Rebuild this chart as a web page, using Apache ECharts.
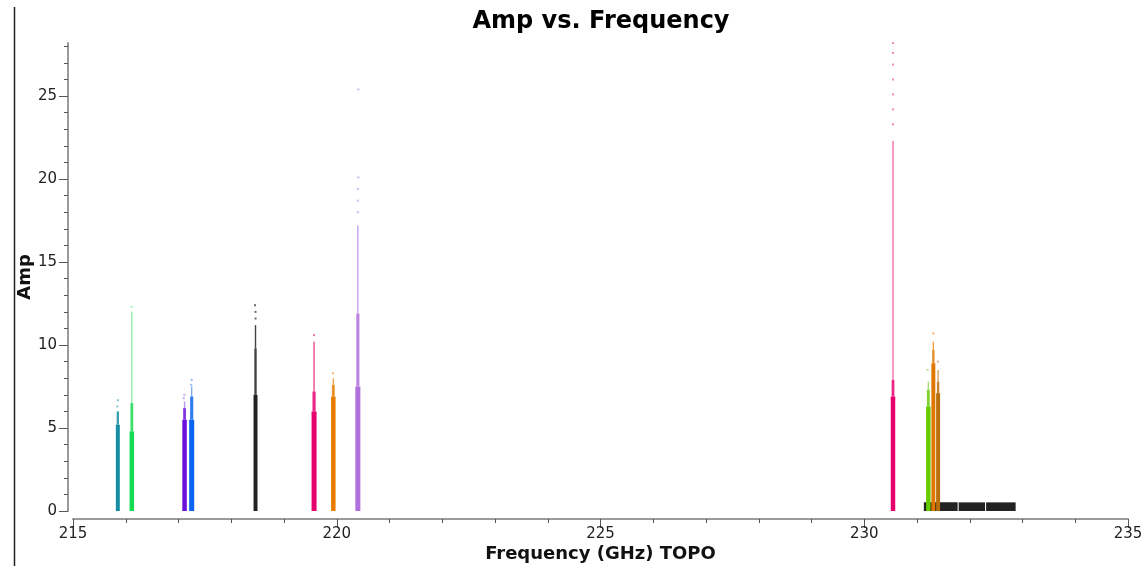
<!DOCTYPE html>
<html>
<head>
<meta charset="utf-8">
<script src="https://cdn.jsdelivr.net/npm/echarts@6/dist/echarts.min.js"></script>
<style>
html,body{margin:0;padding:0;background:#fff;}
#chart{width:1141px;height:566px;}
</style>
</head>
<body>
<div id="chart"></div>
<script>
// ---- data ----
const xTickLabels = [215, 220, 225, 230, 235];
const xMinorTicks = [215,216,217,218,219,220,221,222,223,224,225,226,227,228,229,230,231,232,233,234,235];
const yTickLabels = [0, 5, 10, 15, 20, 25];
const yMinorTicks = [0,1,2,3,4,5,6,7,8,9,10,11,12,13,14,15,16,17,18,19,20,21,22,23,24,25,26,27,28];

// spectral windows (frequency span in GHz, amplitude levels)
const spwFreqLo   = [215.82, 216.08, 217.08, 217.21, 218.43, 219.53, 219.90, 220.36, 230.51, 231.18, 231.28, 231.37];
const spwFreqHi   = [215.88, 216.15, 217.15, 217.29, 218.49, 219.61, 219.97, 220.44, 230.58, 231.25, 231.34, 231.43];
const spwDenseTop = [5.2, 4.8, 5.5, 5.5, 7.0, 6.0, 6.9, 7.5, 6.9, 6.3, 8.9, 7.1];
const spwSparseTop= [6.0, 6.5, 6.2, 6.9, 9.8, 7.2, 7.6, 11.9, 7.9, 7.3, 9.7, 7.8];
const spwTailTop  = [6.0, 12.0, 6.6, 7.5, 11.2, 10.2, 8.0, 17.2, 22.3, 7.8, 10.2, 8.5];

// isolated high points
const outlierSpw  = [0, 0, 1, 2, 2, 3, 3, 4, 4, 4, 5, 6, 7, 7, 7, 7, 7, 8, 8, 8, 8, 8, 8, 8, 9, 10, 11];
const outlierFreq = [215.84, 215.85, 216.11, 217.10, 217.11, 217.24, 217.25, 218.46, 218.46, 218.45, 219.57, 219.93,
                     220.40, 220.40, 220.40, 220.41, 220.41, 230.545, 230.545, 230.545, 230.545, 230.545, 230.545, 230.545,
                     231.20, 231.31, 231.40];
const outlierAmp  = [6.3, 6.67, 12.3, 6.8, 7.0, 7.6, 7.9, 11.6, 12.0, 12.4, 10.6, 8.3,
                     18.0, 18.7, 19.4, 20.1, 25.4, 23.3, 24.2, 25.1, 26.0, 26.9, 27.6, 28.2,
                     8.5, 10.7, 9.0];

// low black band of channels
const bandFreqLo = [231.13, 231.79, 232.31];
const bandFreqHi = [231.77, 232.29, 232.87];
const bandTop    = [0.52, 0.52, 0.52];

// ---- styles ----
const spwColors = ['#178ea3','#14dc50','#6a10dc','#0a66f0','#222222','#e6006e','#e87c00','#b070dc','#e8006e','#66cc00','#e07800','#b8700a'];
const spwLight  = ['#60b8c8','#90eea8','#b898f0','#80aaf8','#444444','#f04c96','#f0a850','#c8a0ec','#f070a8','#a8e070','#f0a040','#d0a060'];
const FONT = '"DejaVu Sans", sans-serif';

const chart = echarts.init(document.getElementById('chart'), null, {renderer:'canvas'});

function rectItem(kind) {
  return function (params, api) {
    const lo = api.value(0), hi = api.value(1), a0 = api.value(2), a1 = api.value(3), k = api.value(4);
    const p1 = api.coord([lo, a1]);
    const p2 = api.coord([hi, a0]);
    let x = p1[0], w = Math.max(1, p2[0] - p1[0]);
    let fill = kind === 'band' ? '#222222' : spwColors[k];
    let opacity = 1;
    if (kind === 'dense') { x -= 0.4; w += 0.8; }
    if (kind === 'sparse') { const cx = x + w / 2; w = Math.max(1.5, w * 0.75); x = cx - w / 2; opacity = 0.85; }
    if (kind === 'tail') { const cx = x + w / 2; w = 1.4; x = cx - w / 2; fill = spwLight[k]; }
    return { type: 'rect', shape: { x: x, y: p1[1], width: w, height: p2[1] - p1[1] },
             style: { fill: fill, opacity: opacity } };
  };
}

const denseData = spwFreqLo.map((lo, i) => [lo, spwFreqHi[i], 0, spwDenseTop[i], i]);
const sparseData = spwFreqLo.map((lo, i) => [lo, spwFreqHi[i], spwDenseTop[i], spwSparseTop[i], i]);
const tailData = spwFreqLo.map((lo, i) => [lo, spwFreqHi[i], spwSparseTop[i], spwTailTop[i], i]);
const bandData = bandFreqLo.map((lo, i) => [lo, bandFreqHi[i], 0, bandTop[i], -1]);
const pointData = outlierFreq.map((f, i) => [f, outlierAmp[i], outlierSpw[i]]);

const axisLineStyle = { color: '#9a9a9a', width: 2 };
const tickStyle = { color: '#555', width: 1 };

chart.setOption({
  animation: false,
  backgroundColor: '#ffffff',
  title: {
    text: 'Amp vs. Frequency', left: 596, top: 5, textAlign: 'center',
    textStyle: { fontFamily: FONT, fontSize: 24, fontWeight: 'bold', color: '#000' }
  },
  grid: { left: 73, right: 13, top: 43, bottom: 55, containLabel: false, outerBoundsMode: 'none' },
  xAxis: [{
    type: 'value', min: 215, max: 235, offset: 8,
    name: 'Frequency (GHz) TOPO', nameLocation: 'middle', nameGap: 26, nameMoveOverlap: false,
    nameTextStyle: { fontFamily: FONT, fontSize: 18, fontWeight: 'bold', color: '#111' },
    axisLine: { show: true, onZero: false, lineStyle: axisLineStyle },
    axisTick: { show: true, length: 9, lineStyle: tickStyle, customValues: xTickLabels },
    axisLabel: { fontFamily: FONT, fontSize: 15, color: '#222', margin: 8, customValues: xTickLabels,
                 showMinLabel: true, showMaxLabel: true, hideOverlap: false },
    splitLine: { show: false }
  }, {
    type: 'value', min: 215, max: 235, offset: 8, position: 'bottom',
    axisLine: { show: false, onZero: false },
    axisTick: { show: true, length: 4, lineStyle: tickStyle, customValues: xMinorTicks },
    axisLabel: { show: false },
    splitLine: { show: false }
  }],
  yAxis: [{
    type: 'value', min: 0, max: 28.2, offset: 5,
    name: 'Amp', nameLocation: 'middle', nameGap: 34, nameRotate: 90, nameMoveOverlap: false,
    nameTextStyle: { fontFamily: FONT, fontSize: 18, fontWeight: 'bold', color: '#111' },
    axisLine: { show: true, onZero: false, lineStyle: axisLineStyle },
    axisTick: { show: true, length: 9, lineStyle: tickStyle, customValues: yTickLabels },
    axisLabel: { fontFamily: FONT, fontSize: 15, color: '#222', margin: 11, customValues: yTickLabels },
    splitLine: { show: false }
  }, {
    type: 'value', min: 0, max: 28.2, offset: 5, position: 'left',
    axisLine: { show: false, onZero: false },
    axisTick: { show: true, length: 4, lineStyle: tickStyle, customValues: yMinorTicks },
    axisLabel: { show: false },
    splitLine: { show: false }
  }],
  graphic: [{
    type: 'line', shape: { x1: 14.5, y1: 7, x2: 14.5, y2: 566 },
    style: { stroke: '#222', lineWidth: 1.5 }
  }],
  series: [
    { type: 'custom', name: 'band', renderItem: rectItem('band'), data: bandData,
      encode: { x: [0, 1], y: [2, 3] }, xAxisIndex: 0, yAxisIndex: 0 },
    { type: 'custom', name: 'tail', renderItem: rectItem('tail'), data: tailData,
      encode: { x: [0, 1], y: [2, 3] }, xAxisIndex: 0, yAxisIndex: 0 },
    { type: 'custom', name: 'sparse', renderItem: rectItem('sparse'), data: sparseData,
      encode: { x: [0, 1], y: [2, 3] }, xAxisIndex: 0, yAxisIndex: 0 },
    { type: 'custom', name: 'dense', renderItem: rectItem('dense'), data: denseData,
      encode: { x: [0, 1], y: [2, 3] }, xAxisIndex: 0, yAxisIndex: 0 },
    { type: 'scatter', name: 'points', data: pointData, symbol: 'rect', symbolSize: 2,
      xAxisIndex: 0, yAxisIndex: 0,
      itemStyle: { color: function (p) { return spwLight[p.data[2]]; } } }
  ]
});
</script>
</body>
</html>
